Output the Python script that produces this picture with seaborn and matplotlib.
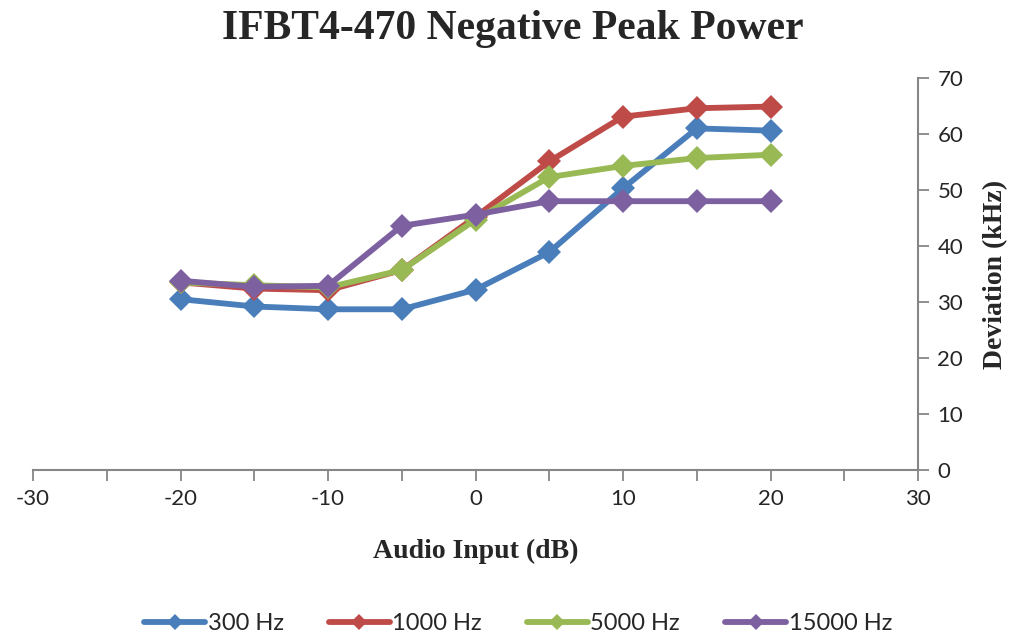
import pandas as pd
import numpy as np
import seaborn as sns
import matplotlib.pyplot as plt

audio_db = [-20, -15, -10, -5, 0, 5, 10, 15, 20]
hz_300 = [30.5, 29.2, 28.7, 28.7, 32.2, 38.9, 50.3, 61.0, 60.6]
hz_1000 = [33.5, 32.4, 32.1, 35.7, 45.2, 55.1, 63.1, 64.6, 64.9]
hz_5000 = [33.5, 33.0, 32.6, 35.7, 44.7, 52.3, 54.3, 55.7, 56.3]
hz_15000 = [33.8, 32.7, 32.9, 43.6, 45.6, 48.0, 48.0, 48.0, 48.0]
series_names = ['300 Hz', '1000 Hz', '5000 Hz', '15000 Hz']
colores = ['#4A7EBB', '#BE4B48', '#98B954', '#7D60A0']

df = pd.DataFrame({
    'Audio Input (dB)': audio_db * 4,
    'Deviation (kHz)': hz_300 + hz_1000 + hz_5000 + hz_15000,
    'serie': [n for n in series_names for _ in audio_db],
})

sns.set_style('white')
plt.rcParams['font.family'] = ['Lato', 'DejaVu Sans']
plt.rcParams['axes.unicode_minus'] = False

fig = plt.figure(figsize=(10.21, 6.38), dpi=100)
ax = fig.add_axes([33 / 1021, 168 / 638, 885 / 1021, 392 / 638])

sns.lineplot(data=df, x='Audio Input (dB)', y='Deviation (kHz)', hue='serie',
             hue_order=series_names, palette=colores, marker='D', markersize=12,
             markeredgewidth=0, linewidth=4.2, ax=ax)

ax.set_xlim(-30, 30)
ax.set_ylim(0, 70)
ax.set_xticks(range(-30, 31, 10))
ax.set_xticks(range(-25, 30, 10), minor=True)
ax.set_yticks(range(0, 71, 10))

gris = '#868686'
for s in ['left', 'top']:
    ax.spines[s].set_visible(False)
for s in ['right', 'bottom']:
    ax.spines[s].set_visible(True)
    ax.spines[s].set_color(gris)
    ax.spines[s].set_linewidth(1.5)

ax.yaxis.tick_right()
ax.yaxis.set_label_position('right')
ax.tick_params(axis='x', which='both', direction='out', length=8, width=1.3,
               color=gris, labelsize=16, bottom=True, pad=6)
ax.tick_params(axis='y', direction='out', length=8, width=1.3, color=gris,
               labelsize=16, right=True, left=False, pad=6)

serif = ['Liberation Serif', 'DejaVu Serif']
ax.set_xlabel('Audio Input (dB)', family=serif, fontweight='bold', fontsize=20, labelpad=21)
ax.set_ylabel('Deviation (kHz)', family=serif, fontweight='bold', fontsize=20, labelpad=14)
fig.suptitle('IFBT4-470 Negative Peak Power', family=serif, fontweight='bold',
             fontsize=30, x=0.502, y=0.985)

ax.legend(loc='center', bbox_to_anchor=(518 / 1021, 14 / 638),
          bbox_transform=fig.transFigure, ncol=4, frameon=False, fontsize=17,
          handlelength=2.6, handletextpad=0.1, columnspacing=1.9, markerscale=0.7)

fig.savefig('out.png', dpi=100)
